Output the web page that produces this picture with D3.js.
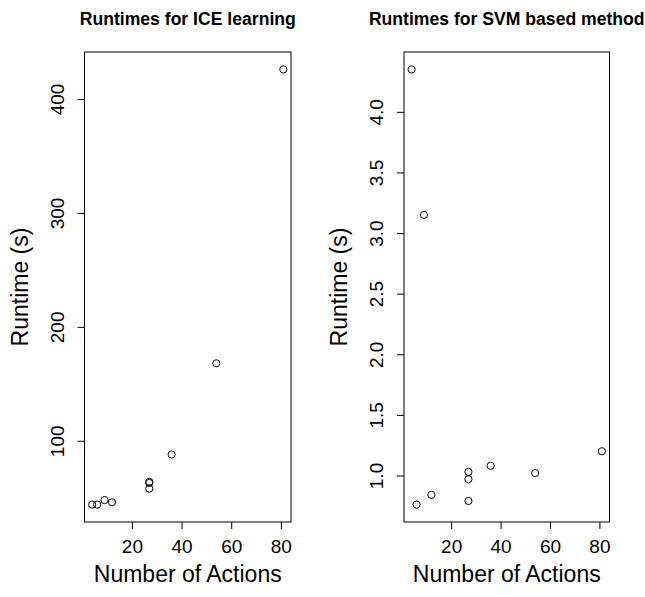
<!DOCTYPE html>
<html>
<head>
<meta charset="utf-8">
<script src="https://cdn.jsdelivr.net/npm/d3@7"></script>
<style>
	body { margin: 0; background: #fff; }
	svg text { font-family: "Liberation Sans", Arial, Helvetica, sans-serif; fill: #000; }
</style>
</head>
<body>
<svg id="chart" width="645" height="597"></svg>
<script>
// number of actions per run (same for both methods)
var actions = [4, 6, 9, 12, 27, 27, 27, 36, 54, 81];
// runtimes in seconds
var iceRuntimes = [44, 44, 48, 46, 63, 64, 58, 88, 168, 426];
var svmRuntimes = [4.35, 0.76, 3.15, 0.84, 1.03, 0.97, 0.79, 1.08, 1.02, 1.20];

var xTicks = [20, 40, 60, 80];
var iceTicks = [100, 200, 300, 400];
var svmTicks = [1.0, 1.5, 2.0, 2.5, 3.0, 3.5, 4.0];

var panels = [
	{ title: "Runtimes for ICE learning", values: iceRuntimes, ticks: iceTicks, format: d3.format("d"), left: 84.5, right: 291 },
	{ title: "Runtimes for SVM based method", values: svmRuntimes, ticks: svmTicks, format: d3.format(".1f"), left: 404, right: 609.5 }
];

// plot region (window.top is reserved, so other names)
var plotTop = 52, plotBottom = 522;

// R style range: extend data range by 4% each side
var pad = function(ext) {
	var d = (ext[1] - ext[0]) * 0.04;
	return [ext[0] - d, ext[1] + d];
};

var svg = d3.select("#chart");

panels.forEach(function(p) {
	var x = d3.scaleLinear().domain(pad(d3.extent(actions))).range([p.left, p.right]);
	var y = d3.scaleLinear().domain(pad(d3.extent(p.values))).range([plotBottom, plotTop]);
	var g = svg.append("g");
	var cx = (p.left + p.right) / 2;

	// x axis
	var xa = g.append("g")
		.attr("transform", "translate(0," + plotBottom + ")")
		.call(d3.axisBottom(x).tickValues(xTicks).tickSize(7).tickFormat(d3.format("d")));
	xa.select(".domain").remove();
	xa.selectAll("text").attr("font-size", "19px").attr("dy", null).attr("y", 31);

	// y axis
	var ya = g.append("g")
		.attr("transform", "translate(" + p.left + ",0)")
		.call(d3.axisLeft(y).tickValues(p.ticks).tickSize(7).tickFormat(p.format));
	ya.select(".domain").remove();
	ya.selectAll("text")
		.attr("font-size", "19px")
		.attr("x", null).attr("dy", null)
		.attr("text-anchor", "middle")
		.attr("transform", "translate(-21,0) rotate(-90)");

	g.selectAll(".tick line").attr("stroke", "#000");

	// frame
	g.append("rect")
		.attr("x", p.left).attr("y", plotTop)
		.attr("width", p.right - p.left).attr("height", plotBottom - plotTop)
		.attr("fill", "none").attr("stroke", "#000").attr("stroke-width", 1);

	// points
	g.selectAll("circle.pt")
		.data(p.values)
		.enter().append("circle")
		.attr("class", "pt")
		.attr("cx", function(d, i) { return x(actions[i]); })
		.attr("cy", function(d) { return y(d); })
		.attr("r", 3.6)
		.attr("fill", "none")
		.attr("stroke", "#000")
		.attr("stroke-width", 1);

	// titles
	g.append("text")
		.attr("x", cx).attr("y", 25)
		.attr("text-anchor", "middle")
		.attr("font-size", "17.6px")
		.attr("font-weight", "bold")
		.text(p.title);

	g.append("text")
		.attr("x", cx).attr("y", 582)
		.attr("text-anchor", "middle")
		.attr("font-size", "23px")
		.text("Number of Actions");

	g.append("text")
		.attr("transform", "translate(" + (p.left - 57) + "," + ((plotTop + plotBottom) / 2) + ") rotate(-90)")
		.attr("text-anchor", "middle")
		.attr("font-size", "23px")
		.text("Runtime (s)");
});
</script>
</body>
</html>
